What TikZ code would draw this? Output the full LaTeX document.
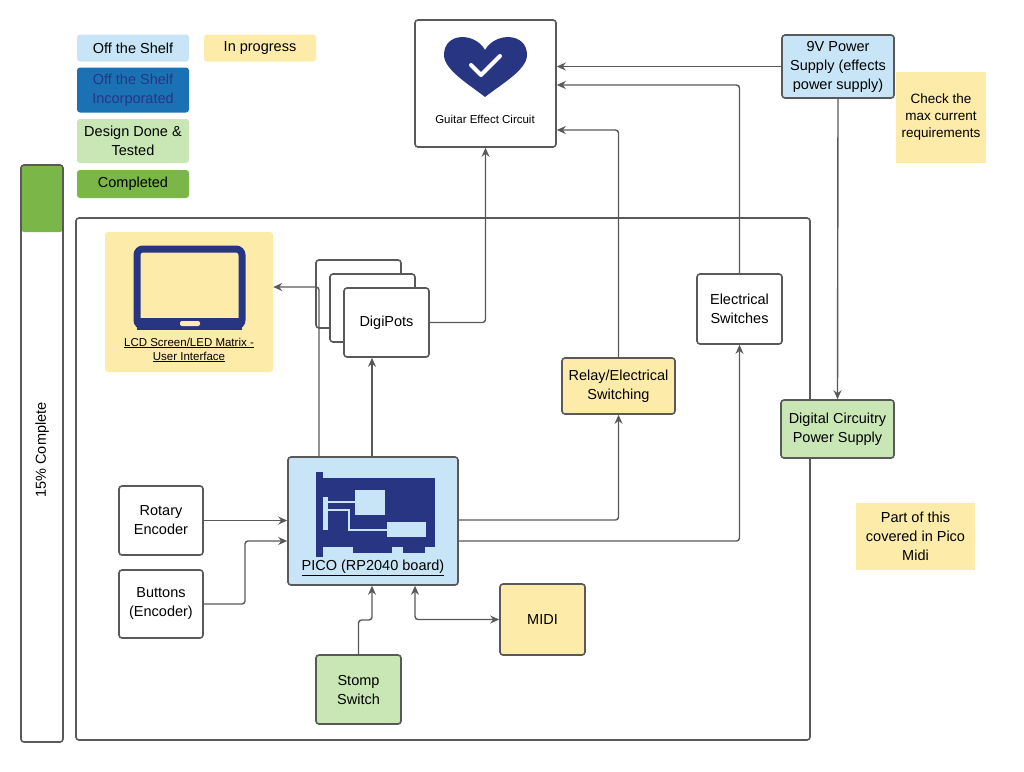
\documentclass[tikz,border=0pt]{standalone}
\usepackage{fontspec}
\setmainfont{Liberation Sans}
\usetikzlibrary{arrows.meta}
\definecolor{shelf}{HTML}{C7E5F6}
\definecolor{incorp}{HTML}{1A72B5}
\definecolor{progress}{HTML}{FDEBAA}
\definecolor{tested}{HTML}{C8E7B5}
\definecolor{done}{HTML}{7AB648}
\definecolor{icon}{HTML}{283583}
\definecolor{edge}{HTML}{595959}
\begin{document}
\begin{tikzpicture}[
    x=1pt, y=-1pt,
    every node/.style={font=\fontsize{14.5}{19}\selectfont, align=center, inner sep=0pt},
    block/.style={draw=edge, line width=1.6pt, rounded corners=3pt},
    legend/.style={rounded corners=3pt, minimum width=112pt},
    sticky/.style={fill=progress},
    link/.style={draw=edge, line width=1.4pt, -{Stealth[length=9pt,width=8pt]}, rounded corners=3pt},
]
    \useasboundingbox (0,0) rectangle (1024,771);

    % legend
    \node[legend, fill=shelf, minimum height=27pt] (shelf) at (133,48) {Off the Shelf};
    \node[legend, fill=progress, minimum height=27pt] (progress) at (260,48) {In progress};
    \node[legend, fill=incorp, minimum height=45pt, text=icon] (incorp) at (133,90) {Off the Shelf\\Incorporated};
    \node[legend, fill=tested, minimum height=44pt] (tested) at (133,141) {Design Done \&\\Tested};
    \node[legend, fill=done, minimum height=28pt] (done) at (133,184) {Completed};

    % progress bar
    \fill[done, rounded corners=3pt] (21,165) rectangle (63,232);
    \draw[block] (21,165) rectangle (63,742);
    \node[rotate=90] (percent) at (42,450) {15\% Complete};

    % main frame
    \draw[block] (76,218) rectangle (810,740);

    % guitar effect circuit
    \node[block, minimum width=141pt, minimum height=127pt] (guitar) at (485.5,83.5) {};
    \fill[icon] (485,50) .. controls (475,32) and (444,32) .. (444,55) .. controls (444,70) and (470,85) .. (485,97)
        .. controls (500,85) and (527,70) .. (527,55) .. controls (527,32) and (495,32) .. (485,50);
    \draw[white, line width=4pt, line cap=round, line join=round] (471,65) -- (481,75) -- (500,56);
    \node[font=\fontsize{11.5}{13}\selectfont] (guitarlbl) at (485,119) {Guitar Effect Circuit};

    % power
    \node[block, fill=shelf, minimum width=112pt, minimum height=63pt] (nine) at (838,66.5) {9V Power\\Supply (effects\\power supply)};
    \node[sticky, minimum width=90pt, minimum height=91pt, font=\fontsize{13.5}{17}\selectfont] (check) at (941,117.5) {Check the\\max current\\requirements};
    \node[block, fill=tested, minimum width=113pt, minimum height=58pt] (digital) at (837.5,429) {Digital Circuitry\\Power Supply};
    \node[sticky, minimum width=119pt, minimum height=67pt] (pmidi) at (915.5,536.5) {Part of this\\covered in Pico\\Midi};

    % lcd
    \node[fill=progress, rounded corners=3pt, minimum width=168pt, minimum height=140pt] (lcd) at (189,302) {};
    \draw[icon, line width=7pt, rounded corners=6pt, fill=progress] (137,249) rectangle (242,326);
    \fill[icon] (137,318) rectangle (242,330);
    \fill[progress, rounded corners=2pt] (180,321) rectangle (200,326);
    \node[font=\fontsize{11.5}{14}\selectfont] (lcdlbl) at (189,350) {\underline{LCD Screen/LED Matrix -}\\\underline{User Interface}};

    % digipots
    \node[block, fill=white, minimum width=85pt, minimum height=68pt] (pot3) at (358.5,294) {};
    \node[block, fill=white, minimum width=85pt, minimum height=68pt] (pot2) at (372.5,308) {};
    \node[block, fill=white, minimum width=85pt, minimum height=69pt] (pots) at (386.5,322.5) {DigiPots};

    \node[block, minimum width=85pt, minimum height=70pt] (switches) at (739.5,309) {Electrical\\Switches};
    \node[block, fill=progress, minimum width=113pt, minimum height=56pt] (relay) at (618.5,386) {Relay/Electrical\\Switching};

    % pico
    \node[block, fill=shelf, minimum width=170pt, minimum height=128pt] (pico) at (373,521) {};
    \fill[icon] (316,472) rectangle (323,557);
    \fill[icon] (323,478) rectangle (435,547);
    \fill[icon] (353,546) rectangle (392,553);
    \fill[icon] (403,546) rectangle (425,553);
    \fill[shelf] (355,490) rectangle (385,515);
    \fill[shelf] (387,522) rectangle (426,537);
    \fill[shelf] (323,497) rectangle (328,530);
    \fill[shelf] (328,501) rectangle (355,503);
    \fill[shelf] (328,509) rectangle (350,511);
    \fill[shelf] (348,509) rectangle (350,531);
    \fill[shelf] (348,529) rectangle (387,531);
    \node (picolbl) at (373,568) {\underline{PICO (RP2040 board)}};

    \node[block, minimum width=84pt, minimum height=69pt] (rotary) at (161,520.5) {Rotary\\Encoder};
    \node[block, minimum width=84pt, minimum height=68pt] (buttons) at (161,604) {Buttons\\(Encoder)};
    \node[block, fill=progress, minimum width=85pt, minimum height=71pt] (midi) at (542.5,619.5) {MIDI};
    \node[block, fill=tested, minimum width=85pt, minimum height=69pt] (stomp) at (358.5,689.5) {Stomp\\Switch};

    % connectors
    \draw[link] (pico.north -| 319,0) |- (lcd.east |- 0,287);
    \draw[link] (pico.north -| 372,0) -- (pots.south -| 372,0);
    \draw[link] (pots.east) -| (guitar.south);
    \draw[link] (pico.east |- 0,520) -| (relay.south);
    \draw[link] (relay.north) |- (guitar.east |- 0,130);
    \draw[link] (pico.east |- 0,541) -| (switches.south);
    \draw[link] (switches.north) |- (guitar.east |- 0,85);
    \draw[link] (nine.west) -- (guitar.east |- nine.west);
    \draw[link] (nine.south) -- (digital.north);
    \draw[link] (rotary.east) -- (pico.west |- rotary.east);
    \draw[link] (buttons.east) -| (245,541) -- (pico.west |- 0,541);
    \draw[link] (stomp.north) |- (372,620) -- (pico.south -| 372,0);
    \draw[link, {Stealth[length=9pt,width=8pt]}-{Stealth[length=9pt,width=8pt]}] (pico.south -| 415,0) |- (midi.west);
\end{tikzpicture}
\end{document}
